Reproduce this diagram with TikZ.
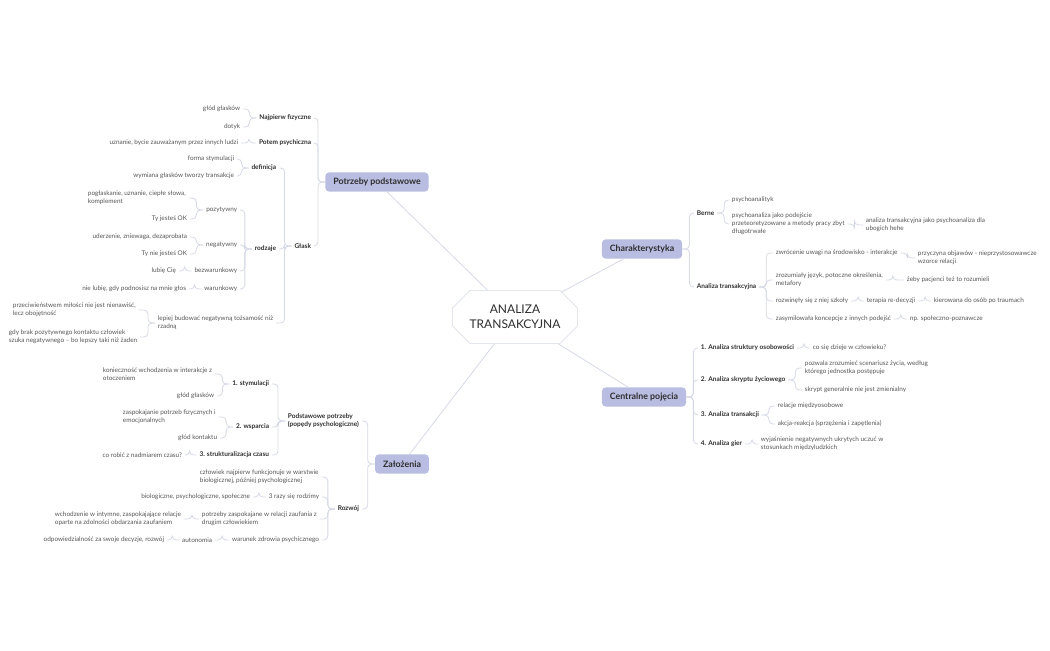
\documentclass[tikz,border=0pt]{standalone}
\usepackage{fontspec}
\setmainfont{Lato}
\usetikzlibrary{shapes.misc}
\definecolor{ln}{HTML}{D6D9E6}
\definecolor{tx}{HTML}{555555}
\definecolor{dk}{HTML}{2E2E2E}
\definecolor{topic}{HTML}{B9BDE1}
\newcommand\lkL[2]{\draw[br] (#1.west) -- ++(-7,0) |- (#2.east);}
\newcommand\lkR[2]{\draw[br] (#1.east) -- ++(7,0) |- (#2.west);}
\begin{document}
\begin{tikzpicture}[x=0.75pt,y=-0.75pt,
  every node/.style={inner sep=2pt,font=\fontsize{4.8}{6}\selectfont,text=tx,align=left},
  L/.style={anchor=east},R/.style={anchor=west},
  b/.style={text=dk,font=\fontsize{4.9}{6}\selectfont\bfseries},
  br/.style={draw=ln,line width=0.6pt,rounded corners=3pt},
  tp/.style={fill=topic,rounded corners=3pt,minimum height=14.5pt,inner xsep=6pt,text=dk,font=\fontsize{6.6}{8}\selectfont\bfseries},
  cl/.style={draw=ln,line width=0.6pt}]
\useasboundingbox (0,0) rectangle (1050,650);
% center
\node[chamfered rectangle,chamfered rectangle xsep=10pt,draw=ln,fill=white,minimum width=94pt,minimum height=40pt,align=center,text=dk,font=\fontsize{9}{11}\selectfont] (c) at (515,317) {ANALIZA\\TRANSAKCYJNA};
\node[tp] (pp) at (377,182) {Potrzeby podstawowe};
\node[tp] (za) at (402,464) {Założenia};
\node[tp] (ch) at (642,249) {Charakterystyka};
\node[tp] (cp) at (644,397) {Centralne pojęcia};
\foreach \t in {pp,za,ch,cp} \draw[cl] (c) -- (\t);
% Potrzeby podstawowe
\node[b,L] (nf) at (314,118) {Najpierw fizyczne};
\node[b,L] (ps) at (314,143) {Potem psychiczna};
\node[b,L] (gl) at (314,246) {Głask};
\lkL{pp}{nf}\lkL{pp}{ps}\lkL{pp}{gl}
\node[L] (g1) at (243,109) {głód głasków};
\node[L] (g2) at (243,127) {dotyk};
\lkL{nf}{g1}\lkL{nf}{g2}
\node[L] (uz) at (241,143) {uznanie, bycie zauważanym przez innych ludzi};
\lkL{ps}{uz}
\node[b,L] (de) at (279,168) {definicja};
\node[b,L] (ro) at (279,249) {rodzaje};
\node[R] (lp) at (155,323) {lepiej budować negatywną tożsamość niż\\rzadną};
\lkL{gl}{de}\lkL{gl}{ro}\lkL{gl}{lp}
\node[L] (fs) at (237,159) {forma stymulacji};
\node[L] (wg) at (237,176) {wymiana głasków tworzy transakcje};
\lkL{de}{fs}\lkL{de}{wg}
\node[L] (po) at (240,210) {pozytywny};
\node[L] (ne) at (240,245) {negatywny};
\node[L] (bw) at (240,271) {bezwarunkowy};
\node[L] (wa) at (240,289) {warunkowy};
\lkL{ro}{po}\lkL{ro}{ne}\lkL{ro}{bw}\lkL{ro}{wa}
\node[R] (p1) at (85,198) {pogłaskanie, uznanie, ciepłe słowa,\\komplement};
\node[L] (p2) at (190,219) {Ty jesteś OK};
\lkL{po}{p1}\lkL{po}{p2}
\node[L] (n1) at (190,237) {uderzenie, zniewaga, dezaprobata};
\node[L] (n2) at (190,254) {Ty nie jesteś OK};
\lkL{ne}{n1}\lkL{ne}{n2}
\node[L] (lc) at (179,271) {lubię Cię};
\lkL{bw}{lc}
\node[L] (nl) at (189,289) {nie lubię, gdy podnosisz na mnie głos};
\lkL{wa}{nl}
\node[R] (l1) at (10,310) {przeciwieństwem miłości nie jest nienawiść,\\lecz obojętność};
\node[R] (l2) at (6,337) {gdy brak pozytywnego kontaktu człowiek\\szuka negatywnego – bo lepszy taki niż żaden};
\lkL{lp}{l1}\lkL{lp}{l2}
% Założenia
\node[b,R] (pd) at (285,421) {Podstawowe potrzeby\\(popędy psychologiczne)};
\node[b,L] (rz) at (362,509) {Rozwój};
\lkL{za}{pd}\lkL{za}{rz}
\node[b,L] (s1) at (272,384) {1. stymulacji};
\node[b,L] (s2) at (272,427) {2. wsparcia};
\node[b,L] (s3) at (272,455) {3. strukturalizacja czasu};
\lkL{pd}{s1}\lkL{pd}{s2}\lkL{pd}{s3}
\node[R] (k1) at (100,374) {konieczność wchodzenia w interakcje z\\otoczeniem};
\node[L] (k2) at (217,396) {głód głasków};
\lkL{s1}{k1}\lkL{s1}{k2}
\node[R] (w1) at (120,417) {zaspokajanie potrzeb fizycznych i\\emocjonalnych};
\node[L] (w2) at (220,438) {głód kontaktu};
\lkL{s2}{w1}\lkL{s2}{w2}
\node[L] (cr) at (185,455) {co robić z nadmiarem czasu?};
\lkL{s3}{cr}
\node[R] (r1) at (197,477) {człowiek najpierw funkcjonuje w warstwie\\biologicznej, później psychologicznej};
\node[L] (r2) at (322,497) {3 razy się rodzimy};
\node[R] (r3) at (199,519) {potrzeby zaspokajane w relacji zaufania z\\drugim człowiekiem};
\node[L] (r4) at (322,540) {warunek zdrowia psychicznego};
\lkL{rz}{r1}\lkL{rz}{r2}\lkL{rz}{r3}\lkL{rz}{r4}
\node[L] (bp) at (253,497) {biologiczne, psychologiczne, społeczne};
\lkL{r2}{bp}
\node[R] (wi) at (52,519) {wchodzenie w intymne, zaspokajające relacje\\oparte na zdolności obdarzania zaufaniem};
\lkL{r3}{wi}
\node[L] (au) at (215,540) {autonomia};
\lkL{r4}{au}
\node[L] (od) at (167,540) {odpowiedzialność za swoje decyzje, rozwój};
\lkL{au}{od}
% Charakterystyka
\node[b,R] (be) at (694,213) {Berne};
\node[b,R] (at) at (694,287) {Analiza transakcyjna};
\lkR{ch}{be}\lkR{ch}{at}
\node[R] (pa) at (729,200) {psychoanalityk};
\node[R] (pj) at (729,224) {psychoanaliza jako podejście\\przeteoretyzowane a metody pracy zbyt\\długotrwałe};
\lkR{be}{pa}\lkR{be}{pj}
\node[R] (ub) at (863,225) {analiza transakcyjna jako psychoanaliza dla\\ubogich hehe};
\lkR{pj}{ub}
\node[R] (a1) at (773,253) {zwrócenie uwagi na środowisko - interakcje};
\node[R] (a2) at (773,280) {zrozumiały język, potoczne określenia,\\metafory};
\node[R] (a3) at (773,301) {rozwinęły się z niej szkoły};
\node[R] (a4) at (773,319) {zasymilowała koncepcje z innych podejść};
\lkR{at}{a1}\lkR{at}{a2}\lkR{at}{a3}\lkR{at}{a4}
\node[R] (b1) at (915,258) {przyczyna objawów - nieprzystosowawcze\\wzorce relacji};
\lkR{a1}{b1}
\node[R] (b2) at (904,280) {żeby pacjenci też to rozumieli};
\lkR{a2}{b2}
\node[R] (b3) at (864,301) {terapia re-decyzji};
\lkR{a3}{b3}
\node[R] (b4) at (931,301) {kierowana do osób po traumach};
\lkR{b3}{b4}
\node[R] (b5) at (907,319) {np. społeczno-poznawcze};
\lkR{a4}{b5}
% Centralne pojęcia
\node[b,R] (c1) at (698,348) {1. Analiza struktury osobowości};
\node[b,R] (c2) at (698,380) {2. Analiza skryptu życiowego};
\node[b,R] (c3) at (698,415) {3. Analiza transakcji};
\node[b,R] (c4) at (698,444) {4. Analiza gier};
\lkR{cp}{c1}\lkR{cp}{c2}\lkR{cp}{c3}\lkR{cp}{c4}
\node[R] (d1) at (810,348) {co się dzieje w człowieku?};
\lkR{c1}{d1}
\node[R] (d2) at (802,368) {pozwala zrozumieć scenariusz życia, według\\którego jednostka postępuje};
\node[R] (d3) at (802,390) {skrypt generalnie nie jest zmienialny};
\lkR{c2}{d2}\lkR{c2}{d3}
\node[R] (d4) at (775,406) {relacje międzyosobowe};
\node[R] (d5) at (775,424) {akcja-reakcja (sprzężenia i zapętlenia)};
\lkR{c3}{d4}\lkR{c3}{d5}
\node[R] (d6) at (758,444) {wyjaśnienie negatywnych ukrytych uczuć w\\stosunkach międzyludzkich};
\lkR{c4}{d6}
\end{tikzpicture}
\end{document}
